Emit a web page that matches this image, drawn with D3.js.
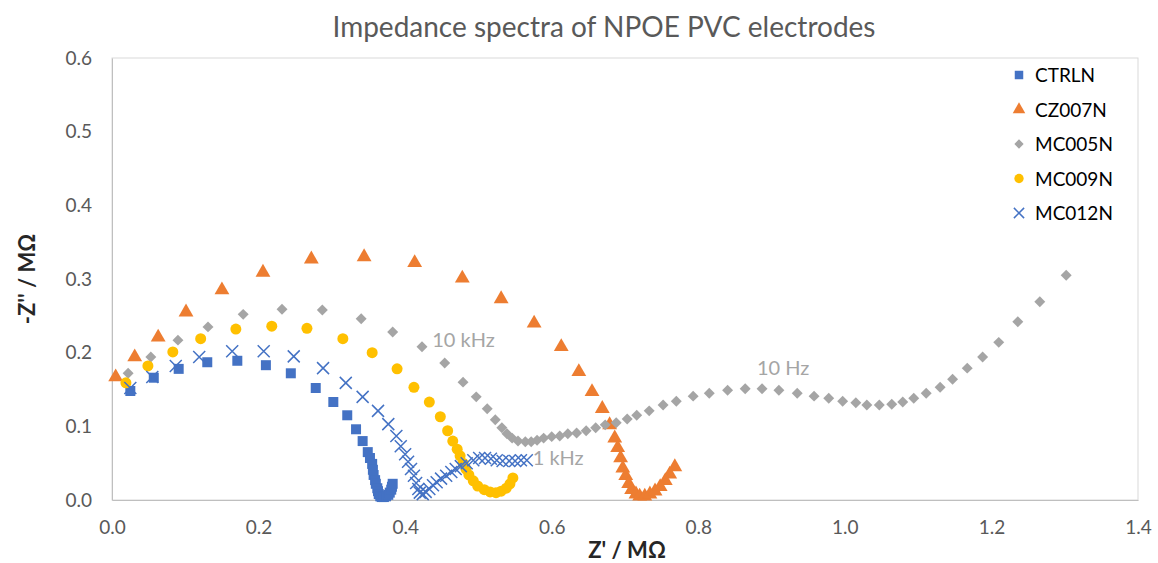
<!DOCTYPE html>
<html>
<head>
<meta charset="utf-8">
<script src="https://cdn.jsdelivr.net/npm/d3@7"></script>
<style>
  body { margin: 0; background: #fff; }
  text { font-family: Lato, "Open Sans", sans-serif; }
</style>
</head>
<body>
<div id="chart"></div>
<script>
const xTicks = [0, 0.2, 0.4, 0.6, 0.8, 1.0, 1.2, 1.4];
const yTicks = [0, 0.1, 0.2, 0.3, 0.4, 0.5, 0.6];
const seriesNames = ['CTRLN', 'CZ007N', 'MC005N', 'MC009N', 'MC012N'];

// [Z', -Z''] in MΩ
const CTRLN = [
  [0.025, 0.148], [0.057, 0.166], [0.091, 0.178], [0.130, 0.187], [0.171, 0.189],
  [0.210, 0.183], [0.244, 0.172], [0.278, 0.152], [0.302, 0.133], [0.321, 0.115],
  [0.333, 0.096], [0.342, 0.080], [0.349, 0.065], [0.352, 0.057], [0.355, 0.049],
  [0.356, 0.041], [0.357, 0.034], [0.359, 0.027], [0.360, 0.022], [0.362, 0.016],
  [0.363, 0.012], [0.364, 0.008], [0.366, 0.005], [0.368, 0.004], [0.371, 0.004],
  [0.374, 0.005], [0.377, 0.007], [0.379, 0.010], [0.381, 0.014], [0.382, 0.018],
  [0.383, 0.022]
];
const CZ007N = [
  [0.005, 0.167], [0.031, 0.194], [0.063, 0.221], [0.101, 0.255], [0.150, 0.285],
  [0.206, 0.309], [0.272, 0.327], [0.344, 0.330], [0.413, 0.322], [0.478, 0.301],
  [0.531, 0.273], [0.576, 0.240], [0.613, 0.208], [0.637, 0.174], [0.655, 0.147],
  [0.669, 0.124], [0.679, 0.102], [0.686, 0.084], [0.690, 0.071], [0.694, 0.057],
  [0.697, 0.043], [0.701, 0.033], [0.705, 0.022], [0.709, 0.014], [0.715, 0.008],
  [0.720, 0.005], [0.727, 0.005], [0.734, 0.008], [0.741, 0.012], [0.748, 0.018],
  [0.755, 0.026], [0.761, 0.035], [0.768, 0.045]
];
const MC005N = [
  [0.022, 0.172], [0.053, 0.194], [0.090, 0.217], [0.131, 0.235], [0.179, 0.252],
  [0.232, 0.259], [0.287, 0.258], [0.340, 0.246], [0.383, 0.228], [0.423, 0.208],
  [0.454, 0.186], [0.479, 0.160], [0.497, 0.140], [0.512, 0.124], [0.523, 0.109],
  [0.532, 0.098], [0.539, 0.090], [0.546, 0.084], [0.554, 0.080], [0.564, 0.079],
  [0.572, 0.079], [0.580, 0.081], [0.589, 0.084], [0.600, 0.086], [0.611, 0.087],
  [0.622, 0.090], [0.634, 0.091], [0.647, 0.094], [0.660, 0.098], [0.673, 0.102],
  [0.688, 0.105], [0.703, 0.110], [0.716, 0.115], [0.733, 0.121], [0.752, 0.129],
  [0.770, 0.134], [0.793, 0.141], [0.815, 0.145], [0.840, 0.149], [0.864, 0.151],
  [0.887, 0.151], [0.910, 0.149], [0.935, 0.145], [0.958, 0.141], [0.978, 0.138],
  [0.997, 0.134], [1.015, 0.132], [1.030, 0.129], [1.047, 0.129], [1.064, 0.130],
  [1.079, 0.133], [1.094, 0.138], [1.111, 0.145], [1.130, 0.153], [1.147, 0.164],
  [1.167, 0.179], [1.188, 0.194], [1.210, 0.214], [1.236, 0.242], [1.266, 0.269],
  [1.302, 0.305]
];
const MC009N = [
  [0.019, 0.159], [0.049, 0.182], [0.083, 0.201], [0.121, 0.219], [0.169, 0.232],
  [0.218, 0.236], [0.266, 0.233], [0.315, 0.219], [0.355, 0.200], [0.389, 0.178],
  [0.412, 0.153], [0.433, 0.133], [0.448, 0.113], [0.458, 0.094], [0.465, 0.080],
  [0.471, 0.069], [0.475, 0.060], [0.479, 0.050], [0.483, 0.042], [0.487, 0.034],
  [0.493, 0.026], [0.499, 0.019], [0.508, 0.014], [0.516, 0.011], [0.524, 0.010],
  [0.531, 0.012], [0.538, 0.016], [0.543, 0.022], [0.547, 0.030]
];
const MC012N = [
  [0.025, 0.152], [0.055, 0.167], [0.087, 0.182], [0.119, 0.194], [0.164, 0.202],
  [0.207, 0.202], [0.248, 0.195], [0.288, 0.179], [0.319, 0.159], [0.342, 0.140],
  [0.363, 0.121], [0.377, 0.103], [0.388, 0.087], [0.394, 0.073], [0.400, 0.062],
  [0.404, 0.052], [0.408, 0.042], [0.412, 0.033], [0.415, 0.023], [0.418, 0.015],
  [0.420, 0.010], [0.424, 0.008], [0.428, 0.011], [0.433, 0.015], [0.438, 0.020],
  [0.443, 0.024], [0.449, 0.029], [0.456, 0.033], [0.463, 0.038], [0.469, 0.042],
  [0.476, 0.046], [0.484, 0.050], [0.493, 0.054], [0.501, 0.057], [0.509, 0.057],
  [0.517, 0.056], [0.525, 0.054], [0.533, 0.053], [0.542, 0.053], [0.550, 0.053],
  [0.558, 0.054], [0.566, 0.054]
];
const seriesData = [CTRLN, CZ007N, MC005N, MC009N, MC012N];

const noteLabels = ['10 kHz', '1 kHz', '10 Hz'];
const noteX = [0.437, 0.574, 0.880];
const noteY = [0.217, 0.057, 0.179];

const colors = ['#4472C4', '#ED7D31', '#A5A5A5', '#FFC000', '#4472C4'];

const W = 1158, H = 563;
const svg = d3.select('#chart').append('svg').attr('width', W).attr('height', H);

const x = d3.scaleLinear().domain([0, 1.4]).range([112, 1138]);
const y = d3.scaleLinear().domain([0, 0.6]).range([500, 58]);

// plot area border
svg.append('rect')
  .attr('x', x(0)).attr('y', y(0.6))
  .attr('width', x(1.4) - x(0)).attr('height', y(0) - y(0.6))
  .attr('fill', 'none').attr('stroke', '#d9d9d9').attr('stroke-width', 1);

// axes
const xAxis = svg.append('g').attr('transform', `translate(0,${y(0)})`)
  .call(d3.axisBottom(x).tickValues(xTicks).tickSize(0).tickPadding(21).tickFormat(d3.format('.1f')));
const yAxis = svg.append('g').attr('transform', `translate(${x(0)},0)`)
  .call(d3.axisLeft(y).tickValues(yTicks).tickSize(0).tickPadding(20).tickFormat(d3.format('.1f')));
[xAxis, yAxis].forEach(a => {
  a.select('.domain').attr('stroke', '#bfbfbf');
  a.selectAll('text').attr('fill', '#595959').attr('font-size', '19px')
    .style('font-family', 'Lato, sans-serif');
});

// titles
svg.append('text').attr('x', 604).attr('y', 37).attr('text-anchor', 'middle')
  .attr('font-size', '28px').attr('fill', '#595959').text('Impedance spectra of NPOE PVC electrodes');
svg.append('text').attr('x', 627).attr('y', 558).attr('text-anchor', 'middle')
  .attr('font-size', '22px').attr('font-weight', 'bold').attr('fill', '#262626').text("Z' / MΩ");
svg.append('text').attr('transform', 'translate(35,279) rotate(-90)').attr('text-anchor', 'middle')
  .attr('font-size', '22px').attr('font-weight', 'bold').attr('fill', '#262626').text("-Z'' / MΩ");

// marker drawing
function marker(g, i, cx, cy, k = 1) {
  const c = colors[i];
  if (i === 0) {
    g.append('path').attr('d', d3.symbol(d3.symbolSquare, 100 * k * k)()).attr('fill', c)
      .attr('transform', `translate(${cx},${cy})`);
  } else if (i === 1) {
    g.append('path').attr('d', d3.symbol(d3.symbolTriangle, 95 * k * k)()).attr('fill', c)
      .attr('transform', `translate(${cx},${cy})`);
  } else if (i === 2) {
    g.append('path').attr('d', d3.symbol(d3.symbolSquare, 60 * k * k)()).attr('fill', c)
      .attr('transform', `translate(${cx},${cy}) rotate(45)`);
  } else if (i === 3) {
    g.append('circle').attr('cx', cx).attr('cy', cy).attr('r', 5.5 * k).attr('fill', c);
  } else {
    const s = 6 * k;
    g.append('path').attr('d', `M${cx - s},${cy - s}L${cx + s},${cy + s}M${cx - s},${cy + s}L${cx + s},${cy - s}`)
      .attr('stroke', c).attr('stroke-width', 1.5).attr('fill', 'none');
  }
}

seriesData.forEach((data, i) => {
  const g = svg.append('g');
  data.forEach(d => marker(g, i, x(d[0]), y(d[1])));
});

// frequency notes
noteLabels.forEach((t, i) => {
  svg.append('text').attr('x', x(noteX[i])).attr('y', y(noteY[i]) + 7)
    .attr('font-size', '20px').attr('fill', '#a5a5a5').text(t);
});

// legend
const lg = svg.append('g');
seriesNames.forEach((n, i) => {
  const ly = 75 + i * 34.5;
  marker(lg, i, 1019, ly, 0.85);
  lg.append('text').attr('x', 1035).attr('y', ly + 7).attr('font-size', '19px')
    .attr('fill', '#000').text(n);
});
</script>
</body>
</html>
